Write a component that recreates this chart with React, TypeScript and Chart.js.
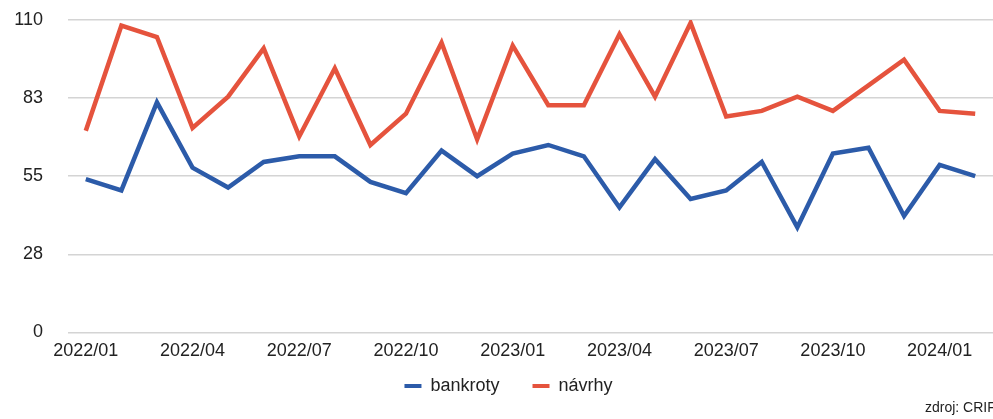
import React, { useEffect, useRef } from "react";
import { Chart, registerables } from "chart.js";

Chart.register(...registerables);

const months: string[] = [
  "2022/01", "2022/02", "2022/03", "2022/04", "2022/05", "2022/06", "2022/07", "2022/08", "2022/09",
  "2022/10", "2022/11", "2022/12", "2023/01", "2023/02", "2023/03", "2023/04", "2023/05", "2023/06",
  "2023/07", "2023/08", "2023/09", "2023/10", "2023/11", "2023/12", "2024/01", "2024/02",
];

const bankroty: number[] = [
  54, 50, 81, 58, 51, 60, 62, 62, 53, 49, 64, 55, 63, 66, 62, 44, 61, 47, 50, 60, 37, 63, 65, 41, 59, 55,
];

const navrhy: number[] = [
  71, 108, 104, 72, 83, 100, 69, 93, 66, 77, 102, 68, 101, 80, 80, 105, 83, 109, 76, 78, 83, 78, 87, 96, 78, 77,
];

const yTicks: number[] = [0, 27.5, 55, 82.5, 110];

const FONT = "'Liberation Sans', Arial, sans-serif";

const legendShift = {
  id: "legendShift",
  afterLayout(chart: any) {
    const lg = chart.legend;
    if (!lg) return;
    lg.top -= 26;
    lg.left += 12;
    lg.right += 12;
  },
};

export default function App() {
  const ref = useRef<HTMLCanvasElement | null>(null);

  useEffect(() => {
    document.body.style.margin = "0";
    if (!ref.current) return;
    const chart = new Chart(ref.current, {
      type: "line",
      data: {
        labels: months,
        datasets: [
          {
            label: "bankroty",
            data: bankroty,
            borderColor: "#2C5BA9",
            backgroundColor: "#2C5BA9",
            borderWidth: 4.5,
            pointRadius: 0,
            tension: 0,
          },
          {
            label: "návrhy",
            data: navrhy,
            borderColor: "#E5533D",
            backgroundColor: "#E5533D",
            borderWidth: 4.5,
            pointRadius: 0,
            tension: 0,
          },
        ],
      },
      plugins: [legendShift],
      options: {
        animation: false,
        responsive: false,
        maintainAspectRatio: false,
        layout: { padding: { top: 20, right: 0, bottom: 0, left: 0 } },
        plugins: {
          tooltip: { enabled: false },
          legend: {
            position: "bottom",
            maxHeight: 49,
            labels: {
              boxWidth: 17,
              boxHeight: 4,
              padding: 33,
              color: "#222",
              font: { family: FONT, size: 18 },
              generateLabels: (c: any) =>
                Chart.defaults.plugins.legend.labels
                  .generateLabels(c)
                  .map((l: any) => ({ ...l, lineWidth: 0 })),
            },
          },
        },
        scales: {
          x: {
            offset: true,
            grid: { display: false, drawTicks: false },
            border: { display: false },
            ticks: {
              autoSkip: false,
              maxRotation: 0,
              minRotation: 0,
              padding: 8,
              color: "#222",
              font: { family: FONT, size: 18 },
              callback: function (_v: any, i: number) {
                return i % 3 === 0 ? months[i] : "";
              },
            },
          },
          y: {
            min: 0,
            max: 110,
            afterFit: (s: any) => {
              s.width = 68;
              s.paddingTop = 0;
              s.paddingBottom = 0;
            },
            afterBuildTicks: (s: any) => {
              s.ticks = yTicks.map((v) => ({ value: v }));
            },
            grid: { color: "#d4d4d4", lineWidth: 1.5, drawTicks: false },
            border: { display: false },
            ticks: {
              padding: 25,
              color: "#222",
              font: { family: FONT, size: 18 },
              callback: (v: any) => String(Math.round(Number(v))),
            },
          },
        },
      },
    });
    return () => chart.destroy();
  }, []);

  return (
    <div style={{ position: "fixed", left: 0, top: 0, width: 993, height: 419, overflow: "hidden", background: "#fff" }}>
      <canvas ref={ref} width={993} height={419} style={{ width: 993, height: 419, display: "block" }} />
      <div
        style={{
          position: "absolute",
          left: 925,
          top: 399,
          fontFamily: FONT,
          fontSize: 14,
          color: "#222",
          whiteSpace: "nowrap",
        }}
      >
        zdroj: CRIF
      </div>
    </div>
  );
}
